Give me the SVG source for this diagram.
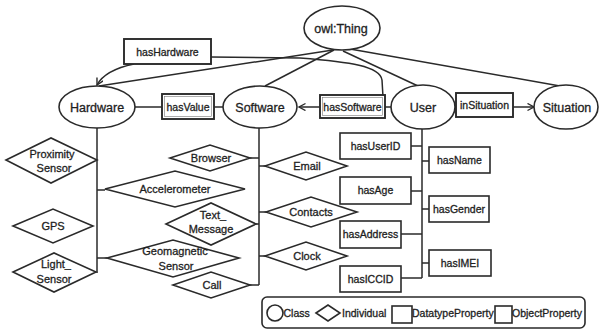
<svg xmlns="http://www.w3.org/2000/svg" width="599" height="330" viewBox="0 0 599 330">
<defs>
<style>
.sh{fill:#fff;stroke:#2a2a2a;stroke-width:1.6}
.op{fill:#fff;stroke:#2a2a2a;stroke-width:1.9}
.ln{fill:none;stroke:#2a2a2a;stroke-width:1.5}
text{font-family:"Liberation Sans",Arial,sans-serif;fill:#1e1e1e;stroke:#1e1e1e;stroke-width:0.3;text-anchor:middle}
.cl{font-size:12.5px}
.pr{font-size:10.5px}
.in{font-size:11px}
.lg{font-size:10.5px;text-anchor:start}
</style>
<marker id="ar" markerWidth="9" markerHeight="9" refX="7.5" refY="4" orient="auto" markerUnits="userSpaceOnUse">
<path d="M1,0.5 L7.5,4 L1,7.5" fill="none" stroke="#2a2a2a" stroke-width="1.4"/>
</marker>
</defs>
<rect width="599" height="330" fill="#fff"/>

<g id="connectors">
<line class="ln" x1="333" y1="50" x2="99" y2="86"/>
<line class="ln" x1="334" y1="50" x2="265" y2="86"/>
<line class="ln" x1="343" y1="51" x2="418" y2="86"/>
<line class="ln" x1="350" y1="49" x2="560" y2="86"/>
<path class="ln" d="M211,57 L300,58 C350,62 380,66 382,80 L383,97"/>
<path class="ln" d="M134,64 Q105,70 97,85" marker-end="url(#ar)"/>
<line class="ln" x1="135" y1="107" x2="162" y2="107"/>
<line class="ln" x1="214" y1="107" x2="223" y2="107"/>
<line class="ln" x1="391" y1="107" x2="385" y2="107"/>
<line class="ln" x1="320" y1="107" x2="299" y2="107" marker-end="url(#ar)"/>
<line class="ln" x1="454" y1="107" x2="457" y2="107"/>
<line class="ln" x1="513" y1="107" x2="534" y2="107" marker-end="url(#ar)"/>
<!-- Hardware trunk -->
<line class="ln" x1="97" y1="128" x2="97" y2="273"/>
<line class="ln" x1="97" y1="190" x2="105" y2="190"/>
<line class="ln" x1="97" y1="258" x2="107" y2="258"/>
<!-- Software trunk -->
<line class="ln" x1="259" y1="128" x2="259" y2="285"/>
<line class="ln" x1="250" y1="158" x2="259" y2="158"/>
<line class="ln" x1="259" y1="166" x2="265" y2="166"/>
<line class="ln" x1="259" y1="212" x2="266" y2="212"/>
<line class="ln" x1="255" y1="224" x2="259" y2="224"/>
<line class="ln" x1="259" y1="256" x2="265" y2="256"/>
<line class="ln" x1="250" y1="285" x2="259" y2="285"/>
<!-- User trunk -->
<line class="ln" x1="422" y1="129" x2="422" y2="278"/>
<line class="ln" x1="411" y1="146" x2="422" y2="146"/>
<line class="ln" x1="422" y1="161" x2="429" y2="161"/>
<line class="ln" x1="411" y1="191" x2="422" y2="191"/>
<line class="ln" x1="422" y1="209" x2="429" y2="209"/>
<line class="ln" x1="401" y1="234" x2="422" y2="234"/>
<line class="ln" x1="422" y1="263" x2="429" y2="263"/>
<line class="ln" x1="401" y1="278" x2="422" y2="278"/>
</g>

<g id="owlThing"><ellipse class="sh" cx="342" cy="28" rx="38" ry="22"/><text class="cl" x="341" y="33">owl:Thing</text></g>
<g id="Hardware"><ellipse class="sh" cx="97" cy="107" rx="38" ry="21"/><text class="cl" x="97" y="112">Hardware</text></g>
<g id="Software"><ellipse class="sh" cx="260" cy="107" rx="37" ry="21"/><text class="cl" x="260" y="112">Software</text></g>
<g id="User"><ellipse class="sh" cx="423" cy="107" rx="32" ry="22"/><text class="cl" x="423" y="112">User</text></g>
<g id="Situation"><ellipse class="sh" cx="566" cy="107" rx="32" ry="22"/><text class="cl" x="567" y="112">Situation</text></g>

<g id="hasHardware"><rect class="op" x="124" y="39" width="87" height="25"/><text class="pr" x="167.5" y="55.5">hasHardware</text></g>
<g id="hasValue"><rect class="op" x="162" y="94" width="52" height="25"/><rect x="164.5" y="96.5" width="47" height="20" fill="none" stroke="#777" stroke-width="0.6"/><text class="pr" x="188" y="110.5">hasValue</text></g>
<g id="hasSoftware"><rect class="op" x="320" y="95" width="65" height="23"/><rect x="322.5" y="97.5" width="60" height="18" fill="none" stroke="#777" stroke-width="0.6"/><text class="pr" x="352.5" y="110.5">hasSoftware</text></g>
<g id="inSituation"><rect class="op" x="456" y="93" width="57" height="24"/><text class="pr" x="484.5" y="109">inSituation</text></g>

<g id="hasUserID"><rect class="sh" x="340" y="133" width="71" height="26"/><text class="pr" x="375.5" y="149.5">hasUserID</text></g>
<g id="hasName"><rect class="sh" x="429" y="147" width="61" height="26"/><text class="pr" x="459.5" y="163.5">hasName</text></g>
<g id="hasAge"><rect class="sh" x="340" y="177" width="71" height="27"/><text class="pr" x="375.5" y="194">hasAge</text></g>
<g id="hasGender"><rect class="sh" x="429" y="196" width="60" height="26"/><text class="pr" x="459" y="212.5">hasGender</text></g>
<g id="hasAddress"><rect class="sh" x="340" y="221" width="61" height="27"/><text class="pr" x="370.5" y="238">hasAddress</text></g>
<g id="hasIMEI"><rect class="sh" x="429" y="250" width="62" height="26"/><text class="pr" x="460" y="266.5">hasIMEI</text></g>
<g id="hasICCID"><rect class="sh" x="340" y="266" width="61" height="26"/><text class="pr" x="370.5" y="282.5">hasICCID</text></g>

<g id="ProximitySensor"><polygon class="sh" points="6,160 51,138 97,160 51,183"/><text class="in" x="52" y="158">Proximity</text><text class="in" x="54" y="172">Sensor</text></g>
<g id="Accelerometer"><polygon class="sh" points="105,189 175,171 245,189 175,207"/><text class="in" x="175" y="193">Accelerometer</text></g>
<g id="GPS"><polygon class="sh" points="13,226 53,209 93,226 53,243"/><text class="in" x="53" y="230">GPS</text></g>
<g id="LightSensor"><polygon class="sh" points="13,272 54,253 96,272 54,292"/><text class="in" x="56" y="268">Light_</text><text class="in" x="54" y="283">Sensor</text></g>
<g id="GeomagneticSensor"><polygon class="sh" points="107,258 173,240 239,258 173,277"/><text class="in" x="175" y="255">Geomagnetic</text><text class="in" x="176" y="270">Sensor</text></g>
<g id="Browser"><polygon class="sh" points="170,158 210,145 250,158 210,171"/><text class="in" x="211" y="162">Browser</text></g>
<g id="TextMessage"><polygon class="sh" points="166,224 211,203 256,224 211,245"/><text class="in" x="213" y="219">Text_</text><text class="in" x="211" y="233">Message</text></g>
<g id="Call"><polygon class="sh" points="173,285 211,272 250,285 211,298"/><text class="in" x="212" y="289">Call</text></g>
<g id="Email"><polygon class="sh" points="265,166 306,152 347,166 306,180"/><text class="in" x="307" y="170">Email</text></g>
<g id="Contacts"><polygon class="sh" points="266,212 311,197 357,212 311,227"/><text class="in" x="311" y="216">Contacts</text></g>
<g id="Clock"><polygon class="sh" points="265,256 306,242 347,256 306,270"/><text class="in" x="307" y="260">Clock</text></g>

<g id="legend">
<rect x="262" y="297" width="323" height="31" rx="5" fill="#fff" stroke="#2a2a2a" stroke-width="1.6"/>
<circle cx="275" cy="313" r="8" class="sh"/>
<text class="lg" x="283.5" y="317">Class</text>
<polygon class="sh" points="316,313 328,305 340,313 328,321"/>
<text class="lg" x="342" y="317">Individual</text>
<rect class="sh" x="392" y="306" width="20" height="17"/>
<text class="lg" x="412" y="317">DatatypeProperty</text>
<rect class="sh" x="495" y="306" width="17" height="17" stroke-width="2"/>
<text class="lg" x="512" y="317">ObjectProperty</text>
</g>
</svg>
